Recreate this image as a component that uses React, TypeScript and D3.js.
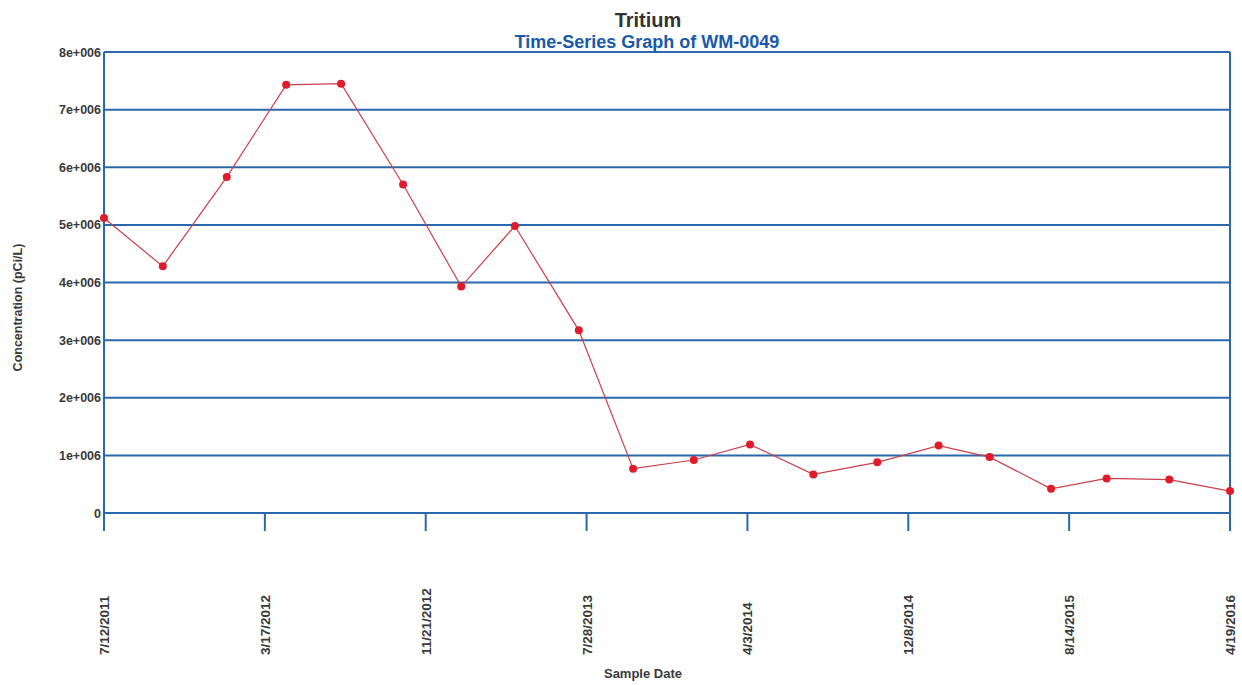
import React from 'react';
import * as d3 from 'd3';

const sampleDates = [
  '2011-07-12', '2011-10-11', '2012-01-18', '2012-04-19', '2012-07-13',
  '2012-10-17', '2013-01-15', '2013-04-08', '2013-07-16', '2013-10-08',
  '2014-01-10', '2014-04-07', '2014-07-14', '2014-10-21', '2015-01-24',
  '2015-04-13', '2015-07-17', '2015-10-11', '2016-01-16', '2016-04-19',
];

const concentrations = [
  5.12e6, 4.28e6, 5.83e6, 7.43e6, 7.45e6,
  5.7e6, 3.93e6, 4.98e6, 3.17e6, 0.77e6,
  0.92e6, 1.19e6, 0.67e6, 0.88e6, 1.17e6,
  0.97e6, 0.42e6, 0.6e6, 0.58e6, 0.38e6,
];

const tickDates = [
  '2011-07-12', '2012-03-17', '2012-11-21', '2013-07-28',
  '2014-04-03', '2014-12-08', '2015-08-14', '2016-04-19',
];

const yTicks = [0, 1e6, 2e6, 3e6, 4e6, 5e6, 6e6, 7e6, 8e6];

const parse = d3.utcParse('%Y-%m-%d');
const fmtDate = d3.utcFormat('%-m/%-d/%Y');
const fmtY = (v: number) => (v === 0 ? '0' : `${v / 1e6}e+006`);

const blue = '#2a68ad';
const font = '"Liberation Sans", Arial, sans-serif';

const renderChart = (svg: any) => {
  const width = 1242;
  const height = 685;
  const margin = { top: 52, right: 12, bottom: 172, left: 104 };

  const data = sampleDates.map((d, i) => ({ date: parse(d) as Date, value: concentrations[i] }));

  const x = d3
    .scaleUtc()
    .domain([parse(tickDates[0]) as Date, parse(tickDates[tickDates.length - 1]) as Date])
    .range([margin.left, width - margin.right]);
  const y = d3
    .scaleLinear()
    .domain([0, 8e6])
    .range([height - margin.bottom, margin.top]);

  svg.selectAll('*').remove();
  svg.append('rect').attr('width', width).attr('height', height).attr('fill', '#fff');

  // gridlines
  svg
    .append('g')
    .selectAll('line')
    .data(yTicks)
    .join('line')
    .attr('x1', margin.left)
    .attr('x2', width - margin.right)
    .attr('y1', (d: number) => y(d))
    .attr('y2', (d: number) => y(d))
    .attr('stroke', blue)
    .attr('stroke-width', 2);

  // y axis labels
  svg
    .append('g')
    .selectAll('text')
    .data(yTicks)
    .join('text')
    .attr('x', margin.left - 3)
    .attr('y', (d: number) => y(d) + 4.5)
    .attr('text-anchor', 'end')
    .attr('font-family', font)
    .attr('font-size', 12.5)
    .attr('font-weight', 'bold')
    .attr('fill', '#3a3a3a')
    .text(fmtY);

  // side borders
  [margin.left, width - margin.right].forEach((xx) => {
    svg
      .append('line')
      .attr('x1', xx)
      .attr('x2', xx)
      .attr('y1', y(8e6))
      .attr('y2', y(0) + 18)
      .attr('stroke', blue)
      .attr('stroke-width', 2);
  });

  // x ticks
  const ticks = tickDates.map((d) => parse(d) as Date);
  svg
    .append('g')
    .selectAll('line')
    .data(ticks)
    .join('line')
    .attr('x1', (d: Date) => x(d))
    .attr('x2', (d: Date) => x(d))
    .attr('y1', y(0))
    .attr('y2', y(0) + 18)
    .attr('stroke', blue)
    .attr('stroke-width', 2);

  svg
    .append('g')
    .selectAll('text')
    .data(ticks)
    .join('text')
    .attr('transform', (d: Date) => `translate(${x(d) + 5},655) rotate(-90)`)
    .attr('text-anchor', 'start')
    .attr('font-family', font)
    .attr('font-size', 13.5)
    .attr('font-weight', 'bold')
    .attr('fill', '#3a3a3a')
    .text((d: Date) => fmtDate(d));

  // series
  const line = d3
    .line<any>()
    .x((d) => x(d.date))
    .y((d) => y(d.value));

  svg
    .append('path')
    .datum(data)
    .attr('d', line)
    .attr('fill', 'none')
    .attr('stroke', '#c8404c')
    .attr('stroke-width', 1.2);

  svg
    .append('g')
    .selectAll('circle')
    .data(data)
    .join('circle')
    .attr('cx', (d: any) => x(d.date))
    .attr('cy', (d: any) => y(d.value))
    .attr('r', 4)
    .attr('fill', '#e01c2c');

  // titles
  svg
    .append('text')
    .attr('x', 648)
    .attr('y', 27)
    .attr('text-anchor', 'middle')
    .attr('font-family', font)
    .attr('font-size', 20)
    .attr('font-weight', 'bold')
    .attr('fill', '#333')
    .text('Tritium');
  svg
    .append('text')
    .attr('x', 647)
    .attr('y', 48)
    .attr('text-anchor', 'middle')
    .attr('font-family', font)
    .attr('font-size', 18)
    .attr('font-weight', 'bold')
    .attr('fill', '#1a5aa8')
    .text('Time-Series Graph of WM-0049');

  svg
    .append('text')
    .attr('transform', `translate(22,${(y(0) + y(8e6)) / 2 + 25}) rotate(-90)`)
    .attr('text-anchor', 'middle')
    .attr('font-family', font)
    .attr('font-size', 12.5)
    .attr('font-weight', 'bold')
    .attr('fill', '#3a3a3a')
    .text('Concentration (pCi/L)');

  svg
    .append('text')
    .attr('x', 643)
    .attr('y', 678)
    .attr('text-anchor', 'middle')
    .attr('font-family', font)
    .attr('font-size', 13)
    .attr('font-weight', 'bold')
    .attr('fill', '#3a3a3a')
    .text('Sample Date');
};

const App: React.FC = () => {
  const ref = React.useRef<SVGSVGElement>(null);

  React.useEffect(() => {
    renderChart(d3.select(ref.current));
  }, []);

  return (
    <svg
      ref={ref}
      width={1242}
      height={685}
      style={{ position: 'absolute', left: 0, top: 0, display: 'block' }}
    />
  );
};

export default App;
